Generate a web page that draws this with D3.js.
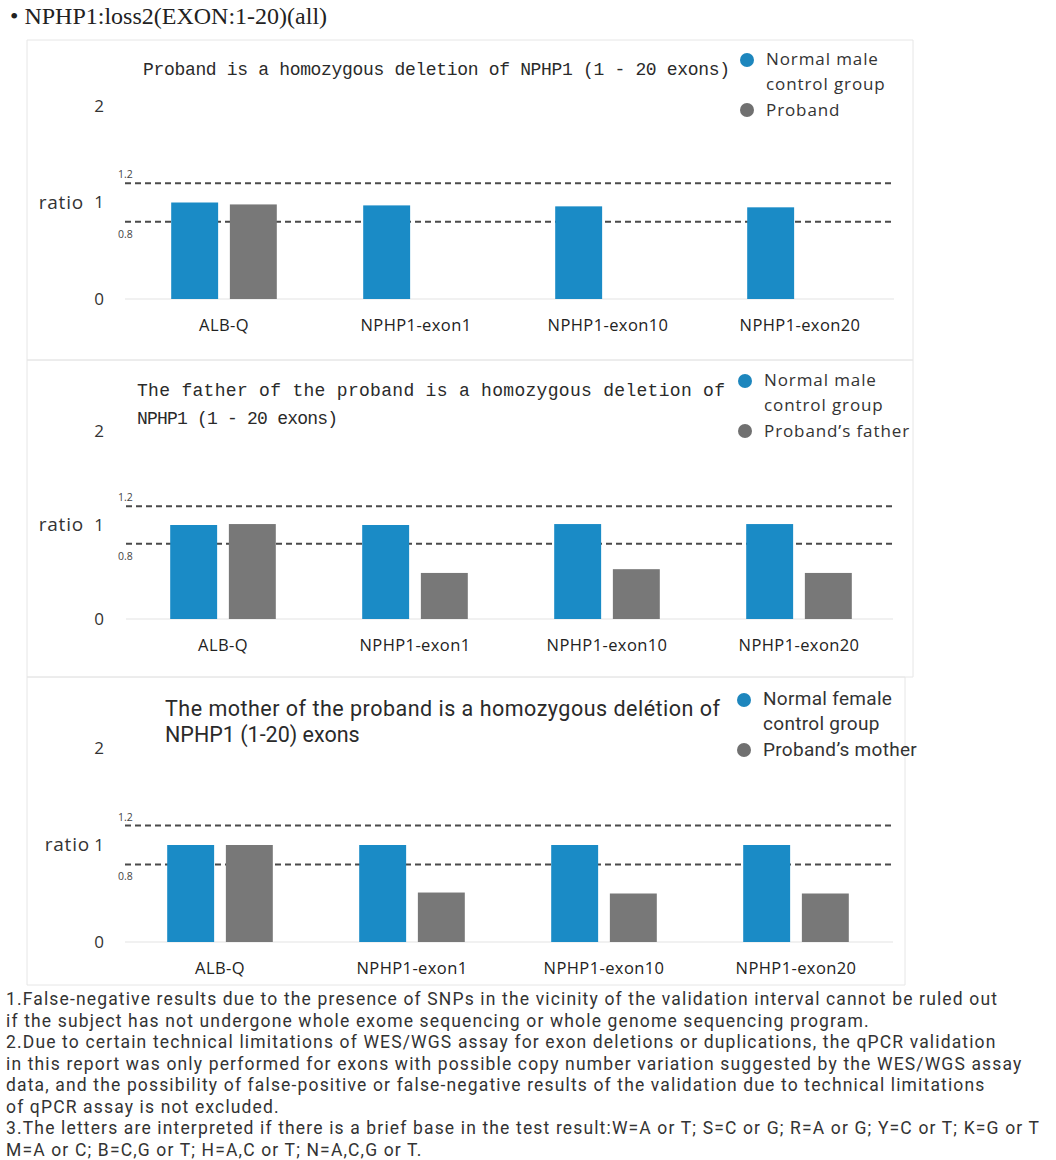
<!DOCTYPE html>
<html>
<head>
<meta charset="utf-8">
<script src="https://cdn.jsdelivr.net/npm/d3@7"></script>
<style>
  body { margin: 0; background: #fff; }
  svg { display: block; }
</style>
</head>
<body>
<svg id="chart" width="1056" height="1160"></svg>
<script>
// --- data ---
var heading = "NPHP1:loss2(EXON:1-20)(all)";
var categories = ["ALB-Q", "NPHP1-exon1", "NPHP1-exon10", "NPHP1-exon20"];
var seriesKeys = ["control", "subject"];

var probandControl = [1.00, 0.97, 0.96, 0.95];
var probandSubject = [0.98, 0, 0, 0];
var fatherControl = [1.00, 1.00, 1.01, 1.01];
var fatherSubject = [1.01, 0.49, 0.53, 0.49];
var motherControl = [1.00, 1.00, 1.00, 1.00];
var motherSubject = [1.00, 0.51, 0.50, 0.50];

var yTicks = [0, 1, 2];
var refLines = [1.2, 0.8];

var panelTitles = [
  ["Proband is a homozygous deletion of NPHP1 (1 - 20 exons)"],
  ["The father of the proband is a homozygous deletion of", "NPHP1 (1 - 20 exons)"],
  ["The mother of the proband is a homozygous delétion of", "NPHP1 (1-20) exons"]
];
var controlLabels = [
  ["Normal male", "control group"],
  ["Normal male", "control group"],
  ["Normal female", "control group"]
];
var subjectLabels = ["Proband", "Proband’s father", "Proband’s mother"];

var notes = [
  "1.False-negative results due to the presence of SNPs in the vicinity of the validation interval cannot be ruled out",
  "if the subject has not undergone whole exome sequencing or whole genome sequencing program.",
  "2.Due to certain technical limitations of WES/WGS assay for exon deletions or duplications, the qPCR validation",
  "in this report was only performed for exons with possible copy number variation suggested by the WES/WGS assay",
  "data, and the possibility of false-positive or false-negative results of the validation due to technical limitations",
  "of qPCR assay is not excluded.",
  "3.The letters are interpreted if there is a brief base in the test result:W=A or T; S=C or G; R=A or G; Y=C or T; K=G or T",
  "M=A or C; B=C,G or T; H=A,C or T; N=A,C,G or T."
];

var colors = { control: "#1a8bc6", subject: "#787878" };
var legendColors = { control: "#1d86bd", subject: "#707070" };

var monoFont = '"Liberation Mono", "DejaVu Sans Mono", monospace';
var sansFont = '"Open Sans", "Noto Sans", sans-serif';
var narrowFont = 'Roboto, "Noto Sans", sans-serif';

// --- layout of the three stacked panels ---
var layout = [
  { control: probandControl, subject: probandSubject,
    top: 40, bottom: 360, right: 913, base: 299, unit: 96.5, xr: [128, 896], lineX: [125, 894],
    titleX: 143, titleY: [75], titleW: [587], titleFont: monoFont, titleSize: 18,
    legX: 747, legY: [60, 110], legFont: sansFont, legSize: 17, legSpacing: 0.9, ratioX: 84 },
  { control: fatherControl, subject: fatherSubject,
    top: 360, bottom: 677, right: 913, base: 619, unit: 94, xr: [127, 895], lineX: [126, 893],
    titleX: 137, titleY: [396, 424], titleW: [588, 201], titleFont: monoFont, titleSize: 18,
    legX: 745, legY: [381, 431], legFont: sansFont, legSize: 17, legSpacing: 0.9, ratioX: 84 },
  { control: motherControl, subject: motherSubject,
    top: 677, bottom: 985, right: 905, base: 942, unit: 97, xr: [124, 892], lineX: [125, 893],
    titleX: 165, titleY: [716, 742], titleW: [555, null], titleFont: narrowFont, titleSize: 21.5,
    legX: 744, legY: [700, 750], legFont: narrowFont, legSize: 19, legSpacing: 0.3, ratioX: 90 }
];

var svg = d3.select("#chart");

// heading with bullet
svg.append("text")
  .attr("x", 10).attr("y", 24)
  .attr("font-family", '"Liberation Serif", "DejaVu Serif", serif')
  .attr("font-size", 24)
  .attr("fill", "#222")
  .text("• " + heading);

layout.forEach(function(p, i) {
  var g = svg.append("g");

  // faint panel frame
  g.append("path")
    .attr("d", "M27," + p.top + "H" + p.right + "V" + p.bottom + "H27Z")
    .attr("fill", "none").attr("stroke", "#e6e6e6").attr("stroke-width", 1);

  var x = d3.scaleBand().domain(categories).range(p.xr)
    .paddingInner(0.45).paddingOuter(0.225);
  var x1 = d3.scaleBand().domain(seriesKeys).range([0, x.bandwidth()]).paddingInner(0.2);
  var y = d3.scaleLinear().domain([0, 2]).range([p.base, p.base - 2 * p.unit]);

  // title
  p.titleY.forEach(function(ty, j) {
    var t = g.append("text")
      .attr("x", p.titleX).attr("y", ty)
      .attr("font-family", p.titleFont).attr("font-size", p.titleSize)
      .attr("fill", "#2a2a2a")
      .text(panelTitles[i][j]);
    if (p.titleW[j]) t.attr("textLength", p.titleW[j]).attr("lengthAdjust", "spacing");
  });

  // legend
  var leg = g.append("g").attr("font-family", p.legFont).attr("font-size", p.legSize)
    .attr("letter-spacing", p.legSpacing).attr("fill", "#333");
  leg.append("circle").attr("cx", p.legX).attr("cy", p.legY[0]).attr("r", 7).attr("fill", legendColors.control);
  leg.append("circle").attr("cx", p.legX).attr("cy", p.legY[1]).attr("r", 7).attr("fill", legendColors.subject);
  leg.append("text").attr("x", p.legX + 19).attr("y", p.legY[0] + 5).text(controlLabels[i][0]);
  leg.append("text").attr("x", p.legX + 19).attr("y", p.legY[0] + 30).text(controlLabels[i][1]);
  leg.append("text").attr("x", p.legX + 19).attr("y", p.legY[1] + 6).text(subjectLabels[i]);

  // faint baseline
  g.append("line")
    .attr("x1", p.lineX[0]).attr("x2", p.lineX[1])
    .attr("y1", y(0)).attr("y2", y(0))
    .attr("stroke", "#ececec").attr("stroke-width", 1.5);

  // dashed reference lines with small labels
  g.selectAll(".ref").data(refLines).enter().append("line")
    .attr("x1", p.lineX[0]).attr("x2", p.lineX[1])
    .attr("y1", function(d) { return y(d); }).attr("y2", function(d) { return y(d); })
    .attr("stroke", "#4a4a4a").attr("stroke-width", 2)
    .attr("stroke-dasharray", "6,4");
  g.selectAll(".refLabel").data(refLines).enter().append("text")
    .attr("x", 118)
    .attr("y", function(d) { return d > 1 ? y(d) - 5 : y(d) + 16; })
    .attr("font-family", sansFont).attr("font-size", 10.5).attr("fill", "#444")
    .text(function(d) { return d3.format(".1f")(d); });

  // bars
  var groups = g.selectAll(".grp").data(categories).enter().append("g")
    .attr("transform", function(c) { return "translate(" + x(c) + ",0)"; });
  groups.selectAll("rect")
    .data(function(c, ci) {
      return seriesKeys.map(function(k) { return { key: k, value: p[k][ci] }; })
        .filter(function(d) { return d.value > 0; });
    })
    .enter().append("rect")
    .attr("x", function(d) { return x1(d.key); })
    .attr("width", x1.bandwidth())
    .attr("y", function(d) { return y(d.value); })
    .attr("height", function(d) { return y(0) - y(d.value); })
    .attr("fill", function(d) { return colors[d.key]; });

  // category labels
  g.selectAll(".cat").data(categories).enter().append("text")
    .attr("x", function(c) { return x(c) + x.bandwidth() / 2; })
    .attr("y", y(0) + 32)
    .attr("text-anchor", "middle")
    .attr("font-family", sansFont).attr("font-size", 16.5).attr("letter-spacing", 0.4)
    .attr("fill", "#222")
    .text(function(c) { return c; });

  // y axis: tick labels only
  var axis = g.append("g").attr("transform", "translate(104,0)")
    .call(d3.axisLeft(y).tickValues(yTicks).tickSize(0).tickPadding(0).tickFormat(d3.format("d")));
  axis.select(".domain").remove();
  axis.selectAll("text")
    .attr("font-family", sansFont).attr("font-size", 17).attr("fill", "#333");

  g.append("text")
    .attr("x", p.ratioX).attr("y", y(1) + 6)
    .attr("text-anchor", "end")
    .attr("font-family", sansFont).attr("font-size", 19).attr("letter-spacing", 0.8)
    .attr("fill", "#333")
    .text("ratio");
});

// footnotes
svg.append("g").selectAll("text").data(notes).enter().append("text")
  .attr("x", 6)
  .attr("y", function(d, i) { return 1005 + i * 21.5; })
  .attr("font-family", narrowFont).attr("font-size", 17.5).attr("letter-spacing", 1.15)
  .attr("fill", "#333")
  .text(function(d) { return d; });
</script>
</body>
</html>
